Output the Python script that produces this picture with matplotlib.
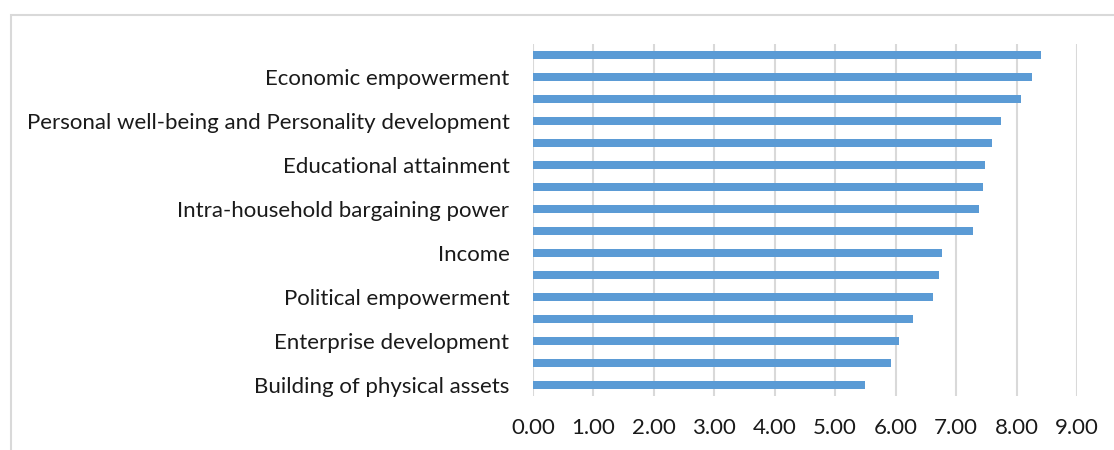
import matplotlib.pyplot as plt
from matplotlib.patches import Rectangle

# scores, top to bottom; Excel only shows every other category label
labels = ["", "Economic empowerment",
          "", "Personal well-being and Personality development",
          "", "Educational attainment",
          "", "Intra-household bargaining power",
          "", "Income",
          "", "Political empowerment",
          "", "Enterprise development",
          "", "Building of physical assets"]
scores = [8.40, 8.25, 8.07, 7.74, 7.59, 7.48, 7.45, 7.38,
          7.28, 6.77, 6.71, 6.61, 6.29, 6.05, 5.93, 5.50]
xticks = [0, 1, 2, 3, 4, 5, 6, 7, 8, 9]

plt.rcParams['font.family'] = ['Lato', 'DejaVu Sans']

fig = plt.figure(figsize=(11.14, 4.5), dpi=100)
# chart area border (runs off the right and bottom edges)
fig.patches.append(Rectangle((10.5 / 1114, -0.1), 1.2, (450 - 15) / 450 + 0.1,
                             transform=fig.transFigure, fill=False,
                             edgecolor='#d9d9d9', linewidth=1.5))

ax = fig.add_axes([533 / 1114, 54 / 450, 544 / 1114, 352 / 450])
ypos = list(range(len(scores)))
ax.barh(ypos, scores, height=0.36, color='#5b9bd5', zorder=3)
ax.set_ylim(len(scores) - 0.5, -0.5)
ax.set_xlim(0, 9)

ax.set_yticks(ypos)
ax.set_yticklabels(labels)
ax.set_xticks(xticks)
ax.set_xticklabels([f"{v:.2f}" for v in xticks])
ax.tick_params(axis='both', length=0, labelsize=16, colors='#1a1a1a')
ax.tick_params(axis='y', pad=17)
ax.tick_params(axis='x', pad=16)

ax.grid(axis='x', color='#d9d9d9', linewidth=1.5, zorder=0)
for s in ax.spines.values():
    s.set_visible(False)

fig.savefig('out.png', dpi=100)
